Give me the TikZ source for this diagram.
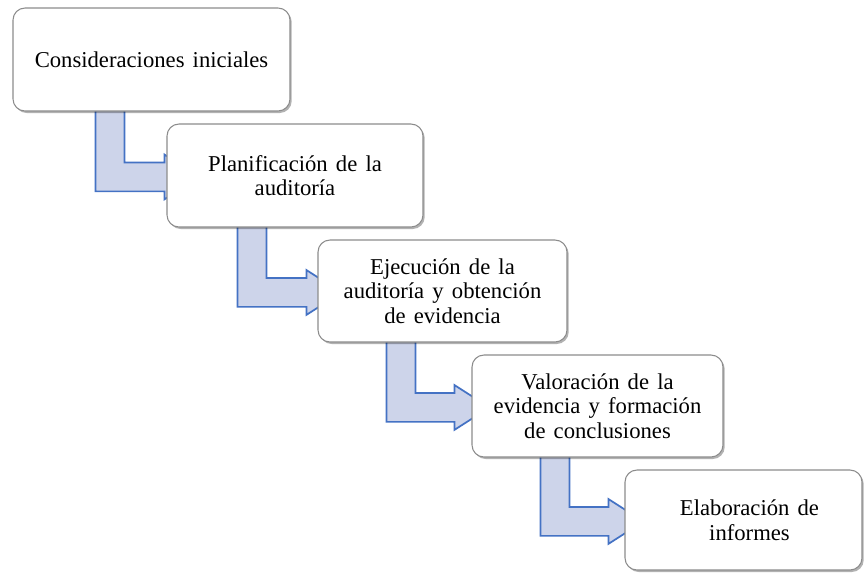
\documentclass[tikz,border=0pt]{standalone}
\usepackage{fontspec}
\setmainfont{Liberation Serif}
\usetikzlibrary{calc,shadows,backgrounds}
\definecolor{arrowfill}{HTML}{CDD4EA}
\definecolor{arrowline}{HTML}{4472C4}
\definecolor{boxline}{HTML}{8C8C8C}
\newcommand\widespaces{\spaceskip=0.36em plus 0.1em\relax}
\tikzset{
  stage/.style={draw=boxline, line width=0.8pt, rounded corners=9pt, fill=white,
    align=center, inner sep=0pt,
    font=\fontsize{17}{18.5}\selectfont,
    execute at begin node=\widespaces,
    drop shadow={shadow xshift=1.3pt, shadow yshift=-1.5pt, fill=black, opacity=0.3}},
  flowarrow/.style={draw=arrowline, fill=arrowfill, line width=1.3pt, line join=miter}
}
% #1 from node, #2 to node, #3 shaft offset from left of #1 (px), #4 head base gap before #2 (px)
\newcommand\stagearrow[4]{%
  \draw[flowarrow] let \p1=(#1.south west), \p2=(#2.west) in
    (\x1+#3*0.75pt, \y1+1pt) -- (\x1+#3*0.75pt+21.75pt, \y1+1pt)
    -- (\x1+#3*0.75pt+21.75pt, \y2-1.1pt+10.8pt)
    -- (\x2-#4*0.75pt, \y2-1.1pt+10.8pt)
    -- (\x2-#4*0.75pt, \y2-1.1pt+16.8pt)
    -- (\x2-#4*0.75pt+26.25pt, \y2-1.1pt)
    -- (\x2-#4*0.75pt, \y2-1.1pt-16.8pt)
    -- (\x2-#4*0.75pt, \y2-1.1pt-10.8pt)
    -- (\x1+#3*0.75pt, \y2-1.1pt-10.8pt) -- cycle;}
\begin{document}
\begin{tikzpicture}[x=0.75pt, y=-0.75pt]
\useasboundingbox (0,0) rectangle (864,572);
\node[stage, minimum width=207.75pt, minimum height=77.25pt] (b1) at (151.5,59.5) {Consideraciones iniciales};
\node[stage, minimum width=192pt, minimum height=77.25pt] (b2) at (295,175.5) {Planificación de la\\auditoría};
\node[stage, minimum width=186.75pt, minimum height=76.5pt] (b3) at (442.5,291) {Ejecución de la\\auditoría y obtención\\de evidencia};
\node[stage, minimum width=188.25pt, minimum height=76.5pt] (b4) at (597.5,406) {Valoración de la\\evidencia y formación\\de conclusiones};
\node[stage, minimum width=177.75pt, minimum height=75pt] (b5) at (743.5,520) {\hspace*{9pt}Elaboración de\\\hspace*{9pt}informes};
\begin{scope}[on background layer]
\stagearrow{b1}{b2}{83}{2}
\stagearrow{b2}{b3}{71}{11}
\stagearrow{b3}{b4}{69}{17}
\stagearrow{b4}{b5}{69}{16}
\end{scope}
\end{tikzpicture}
\end{document}
